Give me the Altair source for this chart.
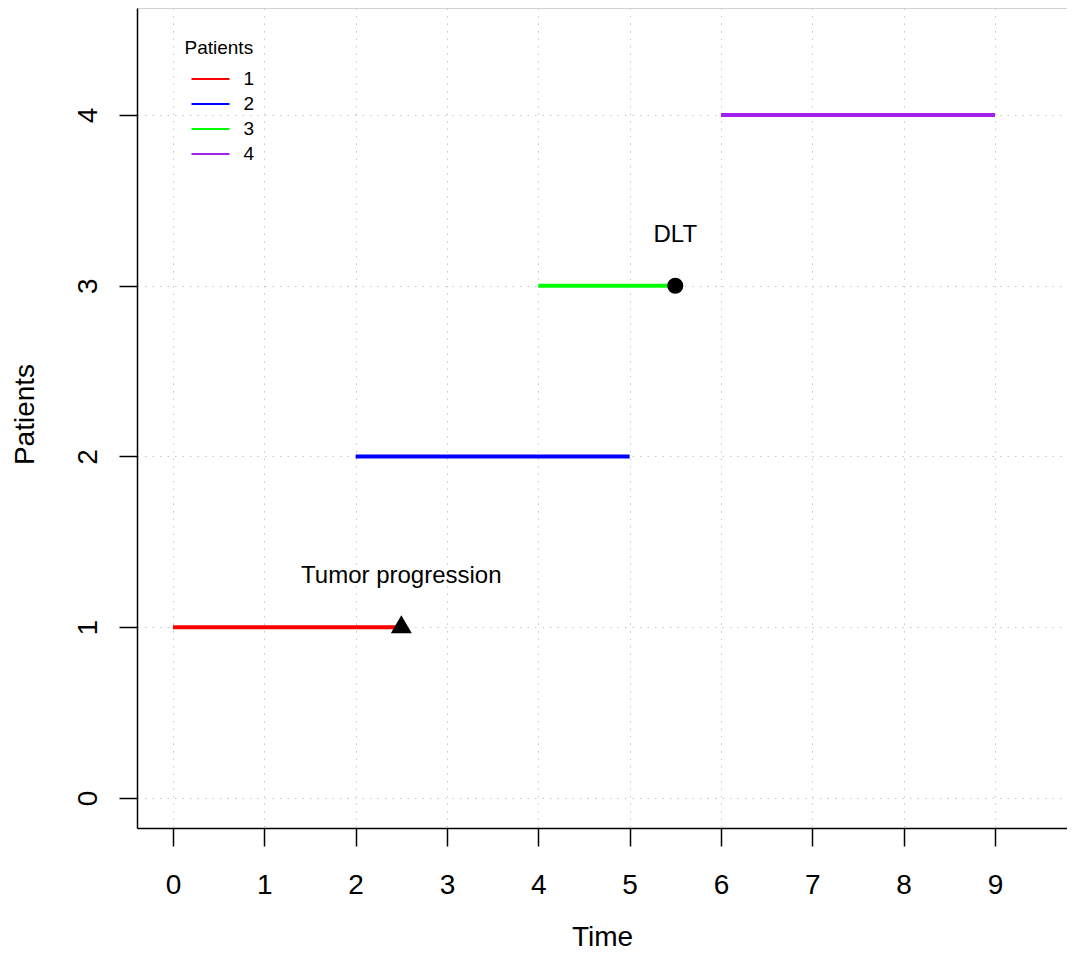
import altair as alt
import pandas as pd

# ---- data ----
patients = ["1", "2", "3", "4"]
start_times = [0, 2, 4, 6]
end_times = [2.5, 5, 5.5, 9]
patient_rows = [1, 2, 3, 4]
patient_colors = ["#FF0000", "#0000FF", "#00FF00", "#A020F0"]

event_names = ["Tumor progression", "DLT"]
event_times = [2.5, 5.5]
event_rows = [1, 3]
event_label_rows = [1.3, 3.3]

x_ticks = [0, 1, 2, 3, 4, 5, 6, 7, 8, 9]
y_ticks = [0, 1, 2, 3, 4]
x_domain = [-0.394, 9.789]
y_domain = [-0.1757, 4.6266]

FONT = "Liberation Sans"

seg = pd.DataFrame({"patient": patients, "start": start_times,
                    "end": end_times, "row": patient_rows})
events = pd.DataFrame({"event": event_names, "time": event_times,
                       "row": event_rows, "label_row": event_label_rows})

x_scale = alt.Scale(domain=x_domain, nice=False, zero=False)
y_scale = alt.Scale(domain=y_domain, nice=False, zero=False)

x_axis = alt.Axis(values=x_ticks, title="Time", grid=True, format="d",
                  labelBaseline="alphabetic", labelPadding=47,
                  titleY=117, titleBaseline="alphabetic")
y_axis = alt.Axis(values=y_ticks, title="Patients", grid=True, format="d",
                  labelAngle=270, labelAlign="center", labelBaseline="alphabetic",
                  labelPadding=23, titleAngle=270, titleX=-104, titleY=406,
                  titleBaseline="alphabetic", titleAlign="center")

rules = alt.Chart(seg).mark_rule(strokeWidth=4).encode(
    x=alt.X("start:Q", scale=x_scale, axis=x_axis),
    x2="end:Q",
    y=alt.Y("row:Q", scale=y_scale, axis=y_axis),
    color=alt.Color("patient:N",
                    scale=alt.Scale(domain=patients, range=patient_colors),
                    legend=alt.Legend(title="Patients", orient="none",
                                      legendX=47.5, legendY=31, padding=0,
                                      symbolType="stroke", symbolSize=1444,
                                      symbolStrokeWidth=2, symbolOffset=6,
                                      labelFontSize=19, titleFontSize=19,
                                      titleFontWeight="normal", labelFont=FONT,
                                      titleFont=FONT, labelColor="black",
                                      titleColor="black", rowPadding=0,
                                      clipHeight=24.2,
                                      titlePadding=9, labelOffset=13)),
)

tri = alt.Chart(events).transform_filter(
    alt.datum.event == "Tumor progression"
).mark_point(shape="triangle-up", size=441, filled=True, opacity=1,
             color="black", yOffset=-3).encode(
    x=alt.X("time:Q", scale=x_scale, axis=x_axis),
    y=alt.Y("row:Q", scale=y_scale, axis=y_axis),
)

circ = alt.Chart(events).transform_filter(
    alt.datum.event == "DLT"
).mark_point(shape="circle", size=256, filled=True, opacity=1,
             color="black").encode(
    x=alt.X("time:Q", scale=x_scale, axis=x_axis),
    y=alt.Y("row:Q", scale=y_scale, axis=y_axis),
)

labels = alt.Chart(events).mark_text(fontSize=24, font=FONT, color="black",
                                     baseline="middle", align="center").encode(
    x=alt.X("time:Q", scale=x_scale, axis=x_axis),
    y=alt.Y("label_row:Q", scale=y_scale, axis=y_axis),
    text="event:N",
)

chart = alt.layer(rules, tri, circ, labels).properties(
    width=930, height=820,
    padding={"left": 129, "top": 0, "right": 0, "bottom": 124},
    autosize=alt.AutoSizeParams(type="none"),
).configure_view(
    stroke="#D3D3D3", strokeWidth=1
).configure_axis(
    domainColor="black", domainWidth=1.5,
    tickColor="black", tickWidth=1.5, tickSize=18,
    labelFont=FONT, titleFont=FONT, labelFontSize=28, titleFontSize=28,
    labelColor="black", titleColor="black", titleFontWeight="normal",
    labelOverlap=False, labelFlush=False,
    gridColor="#C8C8C8", gridDash=[1.5, 6], gridWidth=1,
)

chart.save("out.html", embed_options={"renderer": "svg", "actions": False})
